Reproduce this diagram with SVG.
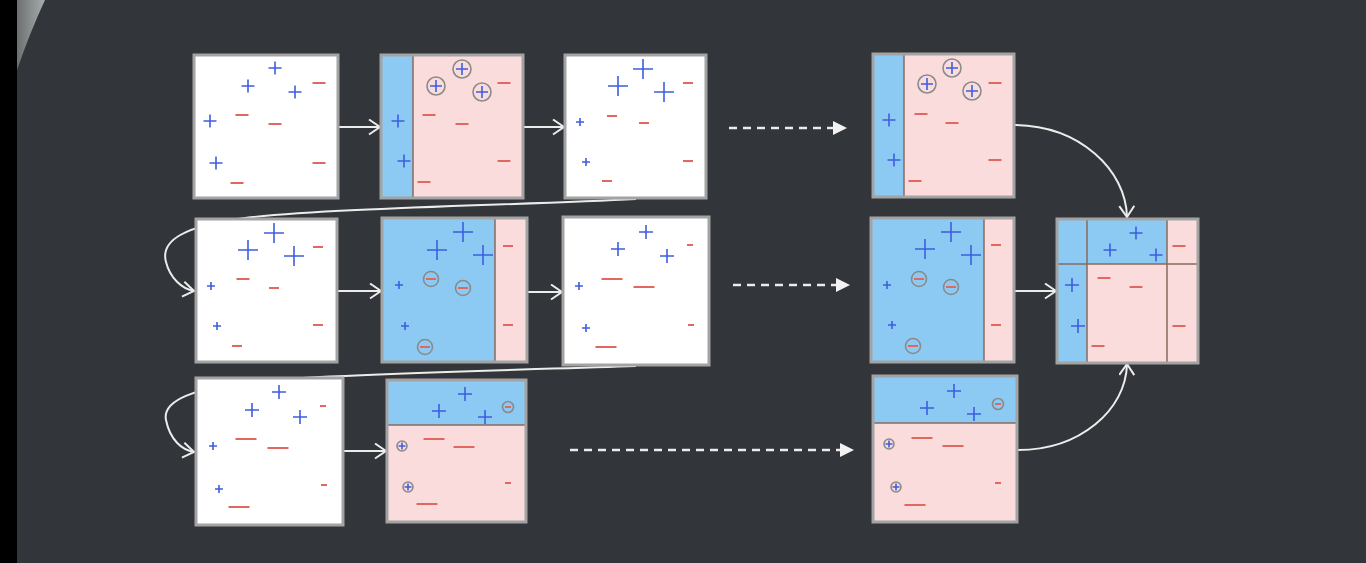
<svg xmlns="http://www.w3.org/2000/svg" xmlns:xlink="http://www.w3.org/1999/xlink" width="1366" height="563" viewBox="0 0 1366 563">
<style>
.bg{fill:#323539}
.box{stroke:#a3a3a3;stroke-width:3;fill:none}
.w{fill:#ffffff}
.b{fill:#8ccaf4}
.k{fill:#fadcdd}
.div{stroke:#8a6a5c;stroke-width:1.5;fill:none}
.pl{stroke:#3d5ee0;stroke-width:1.6;fill:none}
.mi{stroke:#e0685e;stroke-width:2;fill:none}
.ci{stroke:#8a8a8a;stroke-width:1.6;fill:none}
.con{stroke:#ececec;stroke-width:2;fill:none}
.dash{stroke:#ececec;stroke-width:2.5;fill:none;stroke-dasharray:8 6}
</style>
<defs>
<linearGradient id="corner" x1="0" y1="0" x2="1" y2="0">
<stop offset="0" stop-color="#6c7070"/>
<stop offset="1" stop-color="#a7adad"/>
</linearGradient>
<marker id="open" markerUnits="userSpaceOnUse" markerWidth="16" markerHeight="18" refX="12" refY="8" orient="auto" viewBox="0 0 16 18">
<path d="M1 0.5 L12 8 L1 15.5" stroke="#ececec" stroke-width="2" fill="none"/>
</marker>
<marker id="tri" markerUnits="userSpaceOnUse" markerWidth="16" markerHeight="16" refX="1" refY="8" orient="auto" viewBox="0 0 16 16">
<path d="M0 1 L14 8 L0 15 Z" fill="#f2f2f2"/>
</marker>
<path id="pL" class="pl" d="M-10 0H10M0-10V10"/>
<path id="pM" class="pl" d="M-7 0H7M0-7V7"/>
<path id="p6" class="pl" d="M-6.5 0H6.5M0-6.5V6.5"/>
<path id="pS" class="pl" d="M-4 0H4M0-4V4"/>
<path id="mA" class="mi" d="M-6.5 0H6.5"/>
<path id="m10" class="mi" d="M-5 0H5"/>
<path id="mL" class="mi" d="M-10.5 0H10.5"/>
<path id="m6" class="mi" d="M-3 0H3"/>
<g id="cp"><circle r="9" class="ci"/><path class="pl" d="M-6 0H6M0-6V6"/></g>
<g id="cm"><circle r="7.5" class="ci"/><path class="mi" d="M-5 0H5"/></g>
<g id="cps"><circle r="5" class="ci"/><path class="pl" d="M-3.5 0H3.5M0-3.5V3.5"/></g>
<g id="cms"><circle r="5.5" class="ci"/><path class="mi" d="M-3 0H3"/></g>
</defs>
<rect class="bg" x="0" y="0" width="1366" height="563"/>
<rect x="0" y="0" width="17" height="563" fill="#000000"/>
<path d="M17 0 H45 Q30 32 17 70 Z" fill="url(#corner)"/>

<g id="connectors">
<path class="con" marker-end="url(#open)" d="M339 127 H380"/>
<path class="con" marker-end="url(#open)" d="M524 127 H564"/>
<path class="dash" marker-end="url(#tri)" d="M729 128 H834"/>
<path class="con" marker-end="url(#open)" d="M1015 125 C1080 126 1126 170 1127 217"/>
<path class="con" marker-end="url(#open)" d="M636 199 C520 205 330 208 245 218 C185 226 160 240 166 262 C170 278 182 289 194 291"/>
<path class="con" marker-end="url(#open)" d="M338 291 H381"/>
<path class="con" marker-end="url(#open)" d="M528 292 H562"/>
<path class="dash" marker-end="url(#tri)" d="M733 285 H837"/>
<path class="con" marker-end="url(#open)" d="M1015 291 H1056"/>
<path class="con" marker-end="url(#open)" d="M636 366 C520 370 330 374 255 381 C195 388 162 400 166 420 C170 440 182 450 194 452"/>
<path class="con" marker-end="url(#open)" d="M344 451 H386"/>
<path class="dash" marker-end="url(#tri)" d="M570 450 H841"/>
<path class="con" marker-end="url(#open)" d="M1018 450 C1080 450 1126 410 1127 364"/>
</g>

<g id="boxA">
<rect class="w" x="194" y="55" width="144" height="143"/>
<use href="#p6" x="275" y="68"/><use href="#p6" x="248" y="86"/><use href="#p6" x="295" y="92"/><use href="#p6" x="210" y="121"/><use href="#p6" x="216" y="163"/>
<use href="#mA" x="319" y="83"/><use href="#mA" x="242" y="115"/><use href="#mA" x="275" y="124"/><use href="#mA" x="319" y="163"/><use href="#mA" x="237" y="183"/>
<rect class="box" x="194" y="55" width="144" height="143"/>
</g>

<g id="boxB">
<rect class="k" x="381" y="55" width="142" height="143"/>
<rect class="b" x="381" y="55" width="32" height="143"/>
<path class="div" d="M413 55 V198"/>
<use href="#p6" x="398" y="121"/><use href="#p6" x="404" y="161"/>
<use href="#cp" x="462" y="69"/><use href="#cp" x="436" y="86"/><use href="#cp" x="482" y="92"/>
<use href="#mA" x="504" y="83"/><use href="#mA" x="429" y="115"/><use href="#mA" x="462" y="124"/><use href="#mA" x="504" y="161"/><use href="#mA" x="424" y="182"/>
<rect class="box" x="381" y="55" width="142" height="143"/>
</g>

<g id="boxC">
<rect class="w" x="565" y="55" width="141" height="143"/>
<use href="#pL" x="643" y="69"/><use href="#pL" x="618" y="86"/><use href="#pL" x="664" y="92"/><use href="#pS" x="580" y="122"/><use href="#pS" x="586" y="162"/>
<use href="#m10" x="688" y="83"/><use href="#m10" x="612" y="116"/><use href="#m10" x="644" y="123"/><use href="#m10" x="688" y="161"/><use href="#m10" x="607" y="181"/>
<rect class="box" x="565" y="55" width="141" height="143"/>
</g>

<g id="boxD">
<rect class="k" x="873" y="54" width="141" height="143"/>
<rect class="b" x="873" y="54" width="31" height="143"/>
<path class="div" d="M904 54 V197"/>
<use href="#p6" x="889" y="120"/><use href="#p6" x="894" y="160"/>
<use href="#cp" x="952" y="68"/><use href="#cp" x="927" y="84"/><use href="#cp" x="972" y="91"/>
<use href="#mA" x="995" y="83"/><use href="#mA" x="921" y="114"/><use href="#mA" x="952" y="123"/><use href="#mA" x="995" y="160"/><use href="#mA" x="915" y="181"/>
<rect class="box" x="873" y="54" width="141" height="143"/>
</g>

<g id="boxE">
<rect class="w" x="196" y="219" width="141" height="143"/>
<use href="#pL" x="274" y="233"/><use href="#pL" x="248" y="250"/><use href="#pL" x="294" y="256"/><use href="#pS" x="211" y="286"/><use href="#pS" x="217" y="326"/>
<use href="#m10" x="318" y="247"/><use href="#mA" x="243" y="279"/><use href="#m10" x="274" y="288"/><use href="#m10" x="318" y="325"/><use href="#m10" x="237" y="346"/>
<rect class="box" x="196" y="219" width="141" height="143"/>
</g>

<g id="boxF">
<rect class="b" x="382" y="218" width="145" height="144"/>
<rect class="k" x="495" y="218" width="32" height="144"/>
<path class="div" d="M495 218 V362"/>
<use href="#pL" x="463" y="232"/><use href="#pL" x="437" y="250"/><use href="#pL" x="483" y="255"/><use href="#pS" x="399" y="285"/><use href="#pS" x="405" y="326"/>
<use href="#cm" x="431" y="279"/><use href="#cm" x="463" y="288"/><use href="#cm" x="425" y="347"/>
<use href="#m10" x="508" y="246"/><use href="#m10" x="508" y="325"/>
<rect class="box" x="382" y="218" width="145" height="144"/>
</g>

<g id="boxG">
<rect class="w" x="563" y="217" width="146" height="148"/>
<use href="#pM" x="646" y="232"/><use href="#pM" x="618" y="249"/><use href="#pM" x="667" y="256"/><use href="#pS" x="579" y="286"/><use href="#pS" x="586" y="328"/>
<use href="#m6" x="690" y="245"/><use href="#mL" x="612" y="279"/><use href="#mL" x="644" y="287"/><use href="#m6" x="691" y="325"/><use href="#mL" x="606" y="347"/>
<rect class="box" x="563" y="217" width="146" height="148"/>
</g>

<g id="boxH">
<rect class="b" x="871" y="218" width="143" height="144"/>
<rect class="k" x="984" y="218" width="30" height="144"/>
<path class="div" d="M984 218 V362"/>
<use href="#pL" x="951" y="232"/><use href="#pL" x="925" y="249"/><use href="#pL" x="971" y="255"/><use href="#pS" x="887" y="285"/><use href="#pS" x="892" y="325"/>
<use href="#cm" x="919" y="279"/><use href="#cm" x="951" y="287"/><use href="#cm" x="913" y="346"/>
<use href="#m10" x="996" y="245"/><use href="#m10" x="996" y="325"/>
<rect class="box" x="871" y="218" width="143" height="144"/>
</g>

<g id="boxI">
<rect class="k" x="1057" y="219" width="141" height="144"/>
<rect class="b" x="1057" y="219" width="110" height="45"/>
<rect class="b" x="1057" y="264" width="30" height="99"/>
<path class="div" d="M1087 219 V363 M1167 219 V363 M1057 264 H1198"/>
<use href="#p6" x="1136" y="233"/><use href="#p6" x="1110" y="250"/><use href="#p6" x="1156" y="255"/><use href="#pM" x="1072" y="285"/><use href="#pM" x="1078" y="326"/>
<use href="#mA" x="1179" y="246"/><use href="#mA" x="1104" y="278"/><use href="#mA" x="1136" y="287"/><use href="#mA" x="1179" y="326"/><use href="#mA" x="1098" y="346"/>
<rect class="box" x="1057" y="219" width="141" height="144"/>
</g>

<g id="boxJ">
<rect class="w" x="196" y="378" width="147" height="147"/>
<use href="#pM" x="279" y="392"/><use href="#pM" x="252" y="410"/><use href="#pM" x="300" y="417"/><use href="#pS" x="213" y="446"/><use href="#pS" x="219" y="489"/>
<use href="#m6" x="323" y="406"/><use href="#mL" x="246" y="439"/><use href="#mL" x="278" y="448"/><use href="#m6" x="324" y="485"/><use href="#mL" x="239" y="507"/>
<rect class="box" x="196" y="378" width="147" height="147"/>
</g>

<g id="boxK">
<rect class="k" x="387" y="380" width="139" height="142"/>
<rect class="b" x="387" y="380" width="139" height="45"/>
<path class="div" d="M387 425 H526"/>
<use href="#pM" x="465" y="394"/><use href="#pM" x="439" y="411"/><use href="#pM" x="485" y="417"/>
<use href="#cms" x="508" y="407"/><use href="#cps" x="402" y="446"/><use href="#cps" x="408" y="487"/>
<use href="#mL" x="434" y="439"/><use href="#mL" x="464" y="447"/><use href="#m6" x="508" y="483"/><use href="#mL" x="427" y="504"/>
<rect class="box" x="387" y="380" width="139" height="142"/>
</g>

<g id="boxL">
<rect class="k" x="873" y="376" width="144" height="146"/>
<rect class="b" x="873" y="376" width="144" height="47"/>
<path class="div" d="M873 423 H1017"/>
<use href="#pM" x="954" y="391"/><use href="#pM" x="927" y="408"/><use href="#pM" x="974" y="414"/>
<use href="#cms" x="998" y="404"/><use href="#cps" x="889" y="444"/><use href="#cps" x="896" y="487"/>
<use href="#mL" x="922" y="438"/><use href="#mL" x="953" y="446"/><use href="#m6" x="998" y="483"/><use href="#mL" x="915" y="505"/>
<rect class="box" x="873" y="376" width="144" height="146"/>
</g>
</svg>
